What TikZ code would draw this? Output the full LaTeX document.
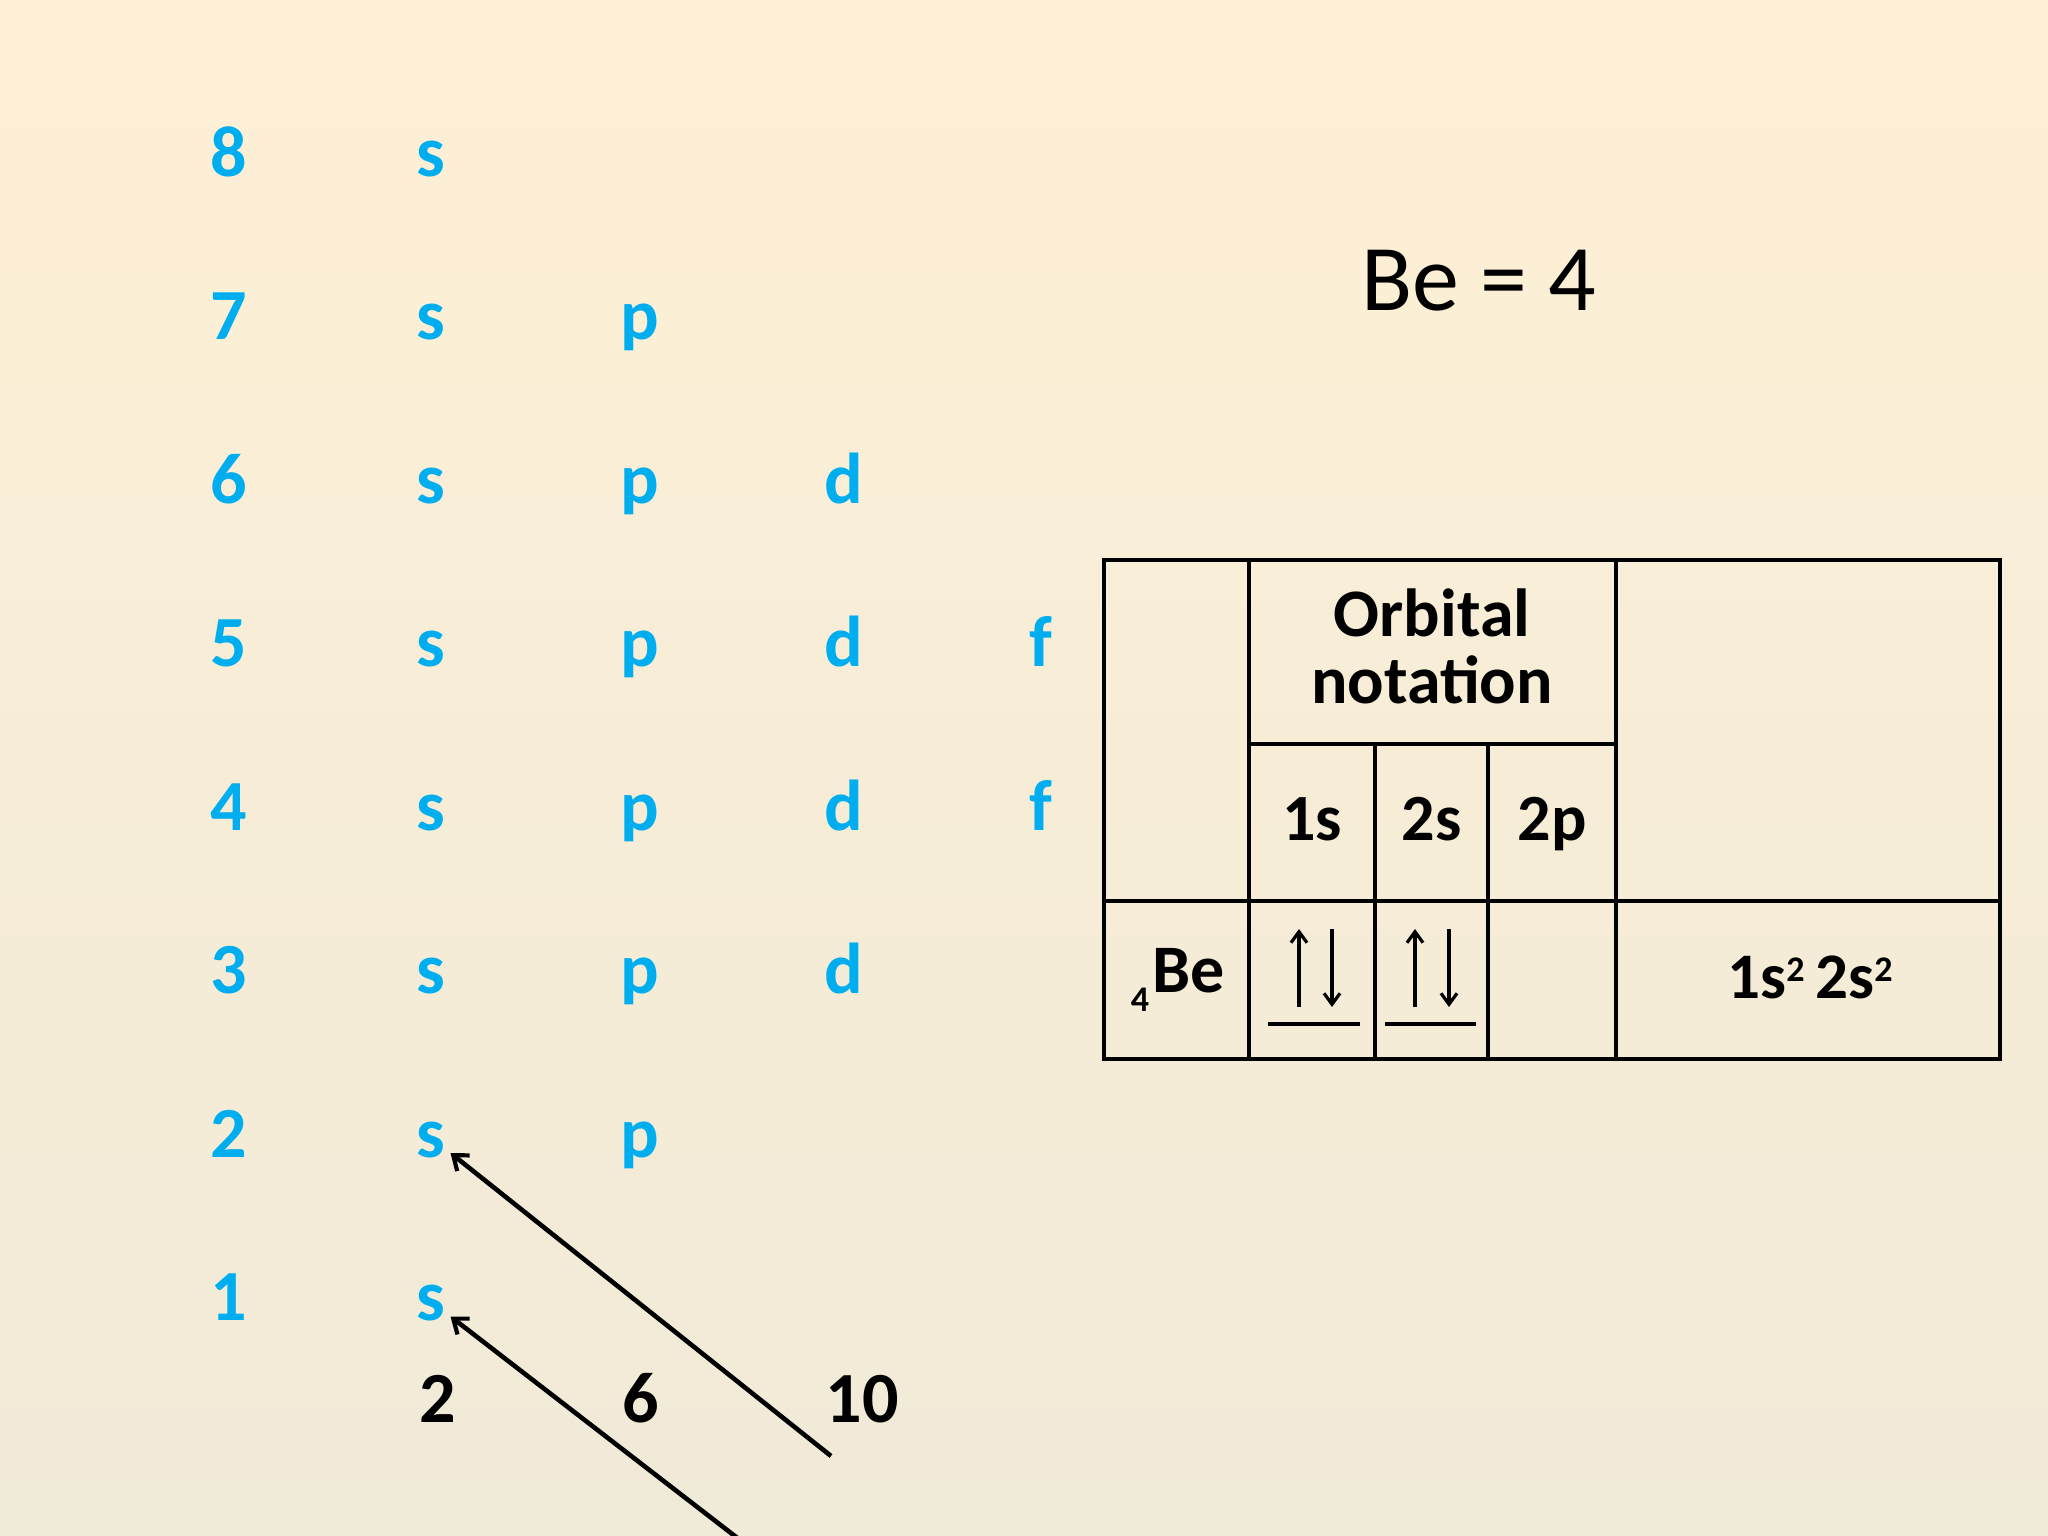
\documentclass[tikz,border=0pt]{standalone}
\usepackage{fontspec}
\setmainfont{Carlito}
\usetikzlibrary{arrows.meta}
\definecolor{orb}{RGB}{0,174,239}
\definecolor{bgtop}{RGB}{254,240,214}
\definecolor{bgbot}{RGB}{240,234,216}
\begin{document}
\begin{tikzpicture}[x=1pt,y=-1pt,
  lbl/.style={anchor=base, text=orb, inner sep=0pt, font=\fontsize{72}{72}\selectfont\bfseries},
  cnt/.style={anchor=base, inner sep=0pt, font=\fontsize{72}{72}\selectfont\bfseries},
  hdr/.style={anchor=base, inner sep=0pt, font=\fontsize{68}{68}\selectfont\bfseries},
  sub/.style={anchor=base, inner sep=0pt, font=\fontsize{66}{66}\selectfont\bfseries},
  tbl/.style={line width=3.8pt, line cap=rect},
  diag/.style={line width=4.6pt, -{Straight Barb[length=13pt,width=20pt,line width=4.2pt]}},
  spin/.style={line width=3.4pt, -{Straight Barb[length=11pt,width=16pt,line width=3.2pt]}},
  base/.style={line width=4.4pt}
]
\shade[top color=bgtop, bottom color=bgbot] (0,0) rectangle (2048,1536);
\useasboundingbox (0,0) rectangle (2048,1536);

% row labels
\foreach \n/\y in {8/176,7/339.5,6/503,5/666.5,4/830,3/993.5,2/1157,1/1320.5}{
  \node[lbl] (n\n) at (229,\y) {\n};
  \node[lbl] (s\n) at (431,\y) {s};
}
\foreach \n/\y in {7/339.5,6/503,5/666.5,4/830,3/993.5,2/1157}{
  \node[lbl] (p\n) at (640,\y) {p};
}
\foreach \n/\y in {6/503,5/666.5,4/830,3/993.5}{
  \node[lbl] (d\n) at (844,\y) {d};
}
\foreach \n/\y in {5/666.5,4/830}{
  \node[lbl] (f\n) at (1041,\y) {f};
}

% capacities
\node[cnt] (c2) at (438,1422) {2};
\node[cnt] (c6) at (641,1422) {6};
\node[cnt] (c10) at (862,1422) {10};

% diagonal arrows
\coordinate (t1) at (831,1456);
\coordinate (t2) at (740,1540);
\draw[diag] (t1) -- ([shift={(5,-4)}]s2.base east);
\draw[diag] (t2) -- ([shift={(5,-4)}]s1.base east);

% title
\node[anchor=base, inner sep=0pt, font=\fontsize{94}{94}\selectfont] (title) at (1479,310) {Be = 4};

% table
\draw[tbl] (1104,560) rectangle (2000,1059);
\draw[tbl] (1249,560) -- (1249,1059);
\draw[tbl] (1616,560) -- (1616,1059);
\draw[tbl] (1375,744) -- (1375,1059);
\draw[tbl] (1488,744) -- (1488,1059);
\draw[tbl] (1249,744) -- (1616,744);
\draw[tbl] (1104,901) -- (2000,901);

\node[hdr] (orb1) at (1432,636) {Orbital};
\node[hdr] (orb2) at (1432,703) {notation};
\node[sub] (h1s) at (1312,840) {1s};
\node[sub] (h2s) at (1431.5,840) {2s};
\node[sub] (h2p) at (1552,840) {2p};

\node[anchor=base, inner sep=0pt, font=\fontsize{36}{36}\selectfont\bfseries] (z4) at (1140,1011) {4};
\node[anchor=base west, inner sep=0pt, font=\fontsize{68}{68}\selectfont\bfseries] (be) at (1152,992) {Be};

\node[anchor=base, inner sep=0pt, font=\fontsize{65}{65}\selectfont\bfseries] (cfg) at (1810,998)
  {1s\raisebox{17pt}{\fontsize{36}{36}\selectfont 2}\,2s\raisebox{17pt}{\fontsize{36}{36}\selectfont 2}};

% spin boxes
\draw[spin] (1299,1007) -- (1299,929);
\draw[spin] (1332,929) -- (1332,1007);
\draw[base] (1268,1024) -- (1360,1024);
\draw[spin] (1415,1007) -- (1415,929);
\draw[spin] (1449,929) -- (1449,1007);
\draw[base] (1385,1024) -- (1476,1024);
\end{tikzpicture}
\end{document}
